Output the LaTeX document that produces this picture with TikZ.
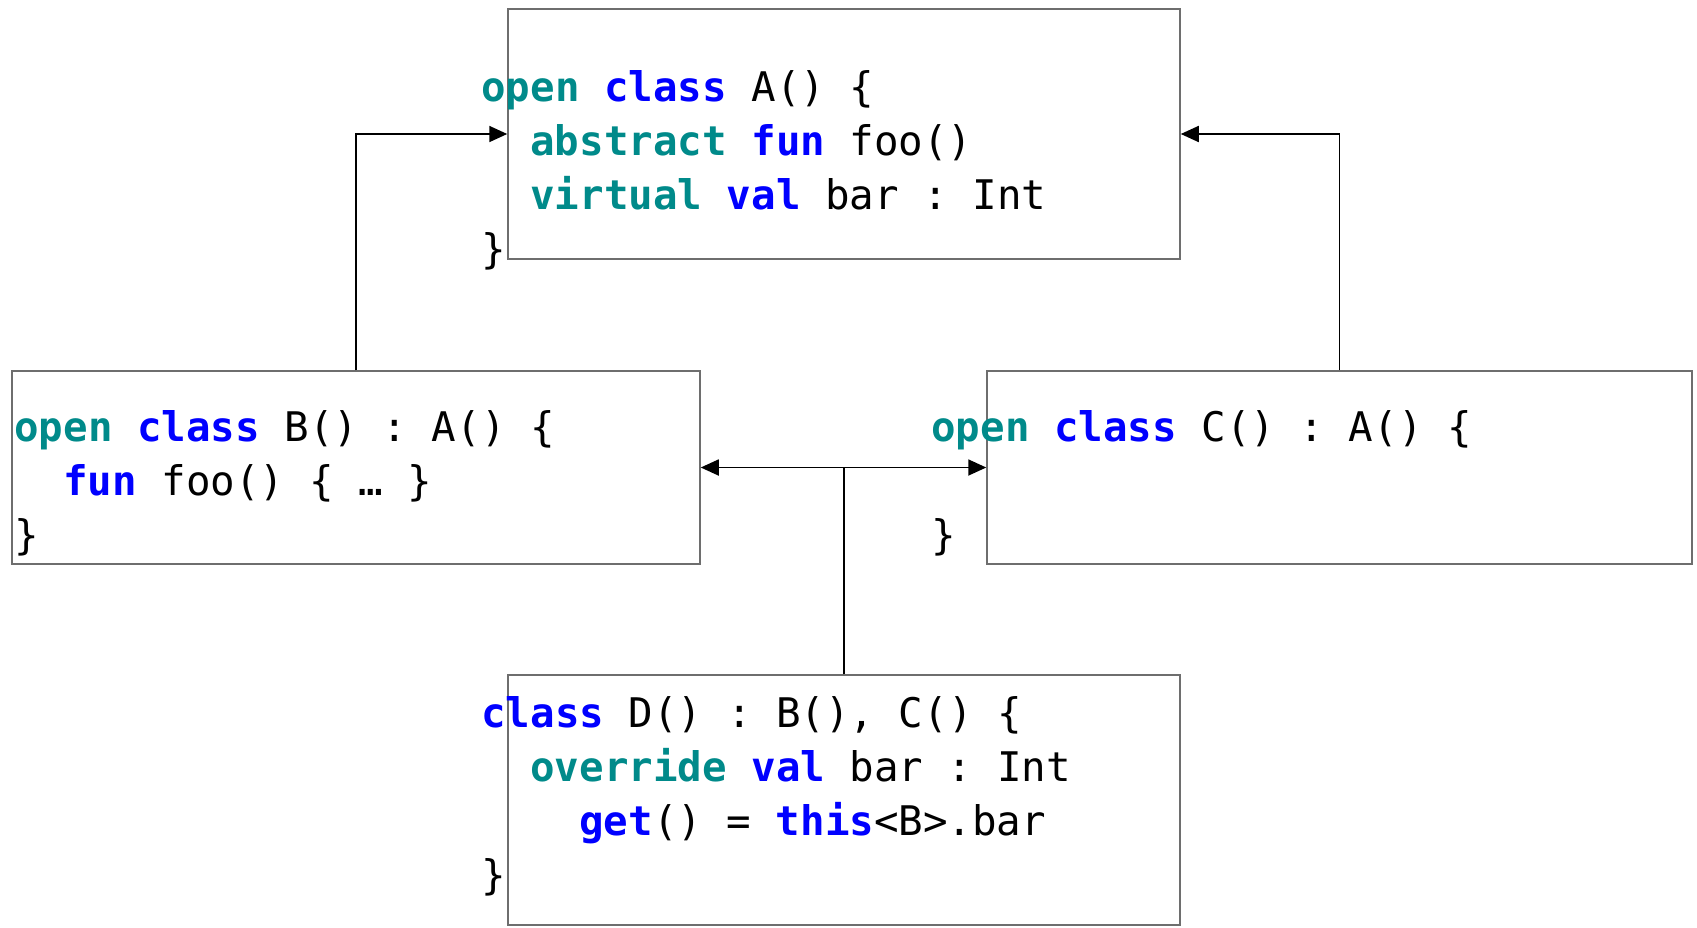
\documentclass[tikz,border=0pt]{standalone}
\usepackage{fontspec}
\usepackage{xcolor}
\setmonofont{DejaVu Sans Mono}
\usetikzlibrary{arrows.meta}

\definecolor{kwteal}{RGB}{0,138,138}
\definecolor{kwblue}{RGB}{0,0,255}
\definecolor{boxgray}{RGB}{110,110,110}
\newcommand{\kwt}[1]{\textcolor{kwteal}{\textbf{#1}}}
\newcommand{\kwb}[1]{\textcolor{kwblue}{\textbf{#1}}}

\tikzset{
    classbox/.style={draw=boxgray, line width=0.75pt, rectangle, inner sep=0},
    code/.style={anchor=base west, inner sep=0, font=\ttfamily\fontsize{20.4pt}{27pt}\selectfont},
    inherit/.style={-{Triangle[length=9pt,width=8pt]}, line width=0.9pt}
}

\begin{document}
\begin{tikzpicture}[x=0.5pt, y=-0.5pt]
    \useasboundingbox (0,0) rectangle (1697,927);
    \node [classbox, minimum width=336pt, minimum height=125pt] (A) at (844,134) {};
    \node [classbox, minimum width=344pt, minimum height=96.5pt] (B) at (356,467.5) {};
    \node [classbox, minimum width=352.5pt, minimum height=96.5pt] (C) at (1339.5,467.5) {};
    \node [classbox, minimum width=336pt, minimum height=125pt] (D) at (844,800) {};
    % class A
    \node [code] (a1) at (481,101) {\kwt{open} \kwb{class} A() \{};
    \node [code] (a2) at (530,155) {\kwt{abstract} \kwb{fun} foo()};
    \node [code] (a3) at (530,209) {\kwt{virtual} \kwb{val} bar : Int};
    \node [code] (a4) at (481,263) {\}};
    % class B
    \node [code] (b1) at (14,441) {\kwt{open} \kwb{class} B() : A() \{};
    \node [code] (b2) at (63,495) {\kwb{fun} foo() \{ … \}};
    \node [code] (b3) at (14,549) {\}};
    % class C
    \node [code] (c1) at (931,441) {\kwt{open} \kwb{class} C() : A() \{};
    \node [code] (c2) at (931,549) {\}};
    % class D
    \node [code] (d1) at (481,727) {\kwb{class} D() : B(), C() \{};
    \node [code] (d2) at (530,781) {\kwt{override} \kwb{val} bar : Int};
    \node [code] (d3) at (579,835) {\kwb{get}() = \kwb{this}<B>.bar};
    \node [code] (d4) at (481,889) {\}};
    % arrows
    \draw [inherit] (B.north) |- (A.west);
    \draw [inherit] (C.north) |- (A.east);
    \draw [inherit] (D.north) |- (B.east);
    \draw [inherit] (D.north) |- (C.west);
\end{tikzpicture}
\end{document}
